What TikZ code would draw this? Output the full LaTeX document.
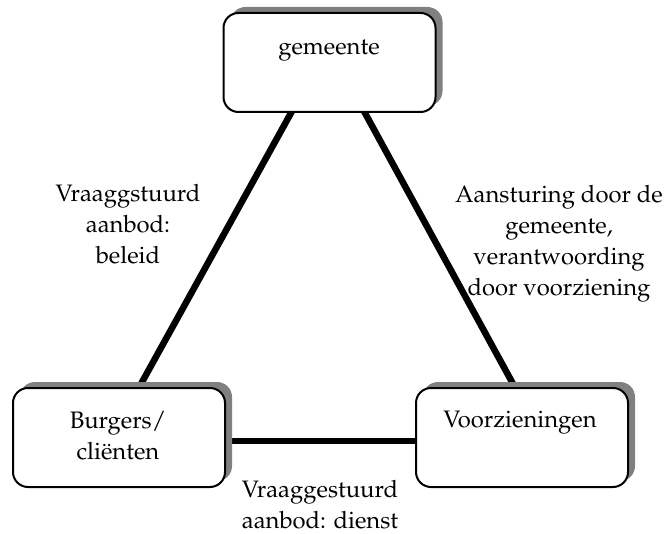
\documentclass[tikz,border=0pt]{standalone}
\usepackage[T1]{fontenc}
\usepackage{mathpazo}
\usetikzlibrary{shadows,calc,backgrounds}
\begin{document}
\begin{tikzpicture}[x=0.5pt,y=-0.5pt,
  box/.style={draw, line width=1pt, rounded corners=7.5pt, fill=white,
    minimum width=106pt, minimum height=49.5pt, inner sep=0pt,
    general shadow={fill=black!50, shadow xshift=3.5pt, shadow yshift=3pt}},
  txt/.style={inner sep=0pt, align=center, font=\fontsize{11.9}{15.5}\selectfont},
  link/.style={line width=3.25pt, black}]
\useasboundingbox (0,0) rectangle (668,534);
% boxes
\node[box] (top) at (329.5,62.5) {};
\node[box] (left) at (119,437.5) {};
\node[box] (right) at (522,437.5) {};
% box texts
\node[txt, anchor=base] (ttop) at (329,55) {gemeente};
\node[txt, anchor=north] (tleft) at (118,411) {Burgers/\\cli\"enten};
\node[txt, anchor=base] (tright) at (520,427) {Voorzieningen};
% connectors
\begin{pgfonlayer}{background}
\draw[link] ($(top.south)+(-35.2,-6)$) -- ($(left.north)+(19.2,2)$);
\draw[link] ($(top.south)+(32.2,-6)$) -- ($(right.north)+(-6.2,2)$);
\draw[link] ($(left.east)+(-2,3.5)$) -- ($(right.west)+(2,3.5)$);
\end{pgfonlayer}
% labels
\node[txt, anchor=north] (lab1) at (128,184) {Vraaggstuurd\\aanbod:\\beleid};
\node[txt, anchor=north] (lab2) at (559,184.5) {Aansturing door de\\gemeente,\\verantwoording\\door voorziening};
\node[txt, anchor=north] (lab3) at (320,480) {Vraaggestuurd\\aanbod: dienst};
\end{tikzpicture}
\end{document}
